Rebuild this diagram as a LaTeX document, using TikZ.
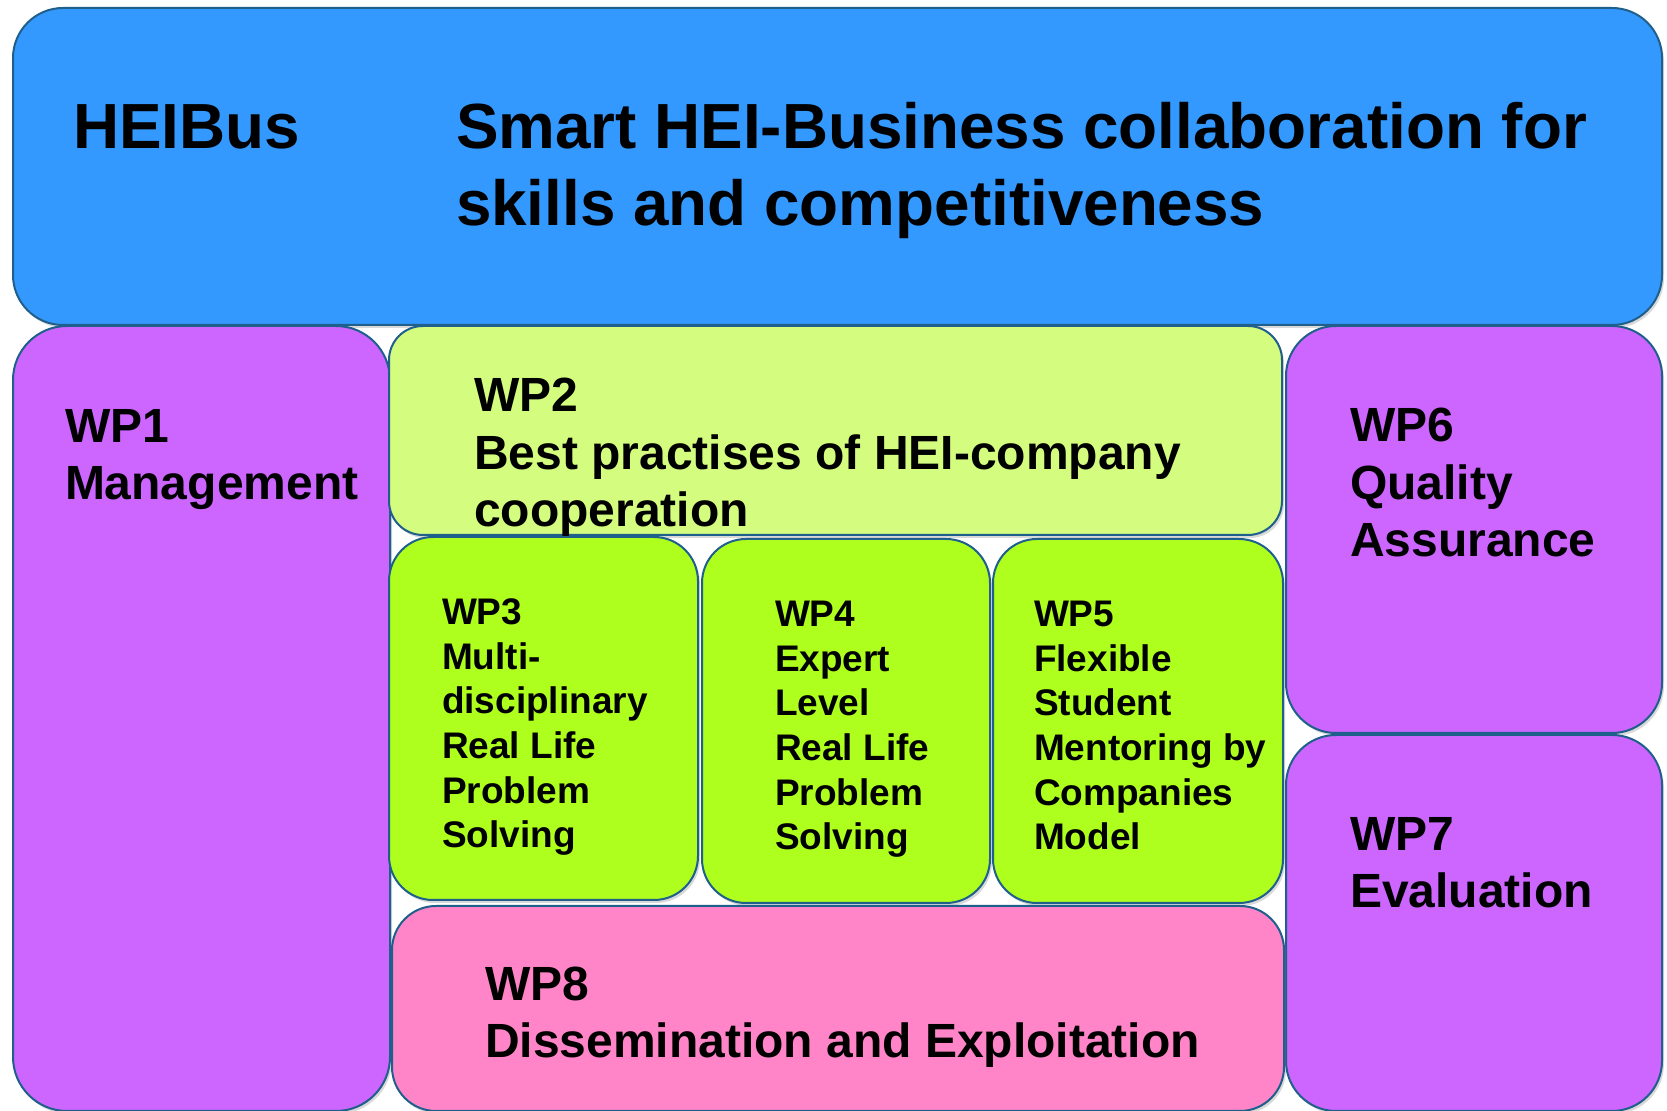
\documentclass[tikz,border=0pt]{standalone}
\usepackage{fontspec}
\setmainfont{Liberation Sans}
\usetikzlibrary{positioning,fit,shadows}
\definecolor{heiblue}{HTML}{3399FF}
\definecolor{wppurple}{HTML}{CC66FF}
\definecolor{wplime}{HTML}{D4FC7E}
\definecolor{wpgreen}{HTML}{AEFF1E}
\definecolor{wppink}{HTML}{FF85C8}
\definecolor{wpedge}{HTML}{1F5F8C}

\begin{document}
\begin{tikzpicture}
  [
  x=0.5pt, y=-0.5pt, line width=1pt,
  wpbox/.style={rectangle, draw=wpedge, inner sep=0pt, rounded corners=25pt, drop shadow={shadow xshift=1pt, shadow yshift=-1.5pt, opacity=0.3}},
  headtext/.style={anchor=base west, inner sep=0pt, align=left, font=\bfseries\fontsize{31.9}{38.5}\selectfont},
  wptext/.style={anchor=base west, inner sep=0pt, align=left, font=\bfseries\fontsize{24}{28.75}\selectfont},
  subtext/.style={anchor=base west, inner sep=0pt, align=left, font=\bfseries\fontsize{18.5}{22.35}\selectfont}
  ]
\useasboundingbox (0,0) rectangle (1667,1111);

% title bar
\node[wpbox, fill=heiblue, fit={(13,8) (1662,325)}] (heibus) {};
\node[headtext] (acronym) at (72,149) {HEIBus};
\node[headtext] (title) at (455,226) {Smart HEI-Business collaboration for\\skills and competitiveness};

% side work packages
\node[wpbox, fill=wppurple, rounded corners=27pt, fit={(13,326) (390,1111)}] (wp1) {};
\node[wpbox, fill=wppurple, fit={(1286,326) (1662,733)}] (wp6) {};
\node[wpbox, fill=wppurple, fit={(1286,735) (1662,1111)}] (wp7) {};

% middle work packages
\node[wpbox, fill=wplime, rounded corners=17pt, fit={(389,326) (1282,535)}] (wp2) {};
\node[wpbox, fill=wpgreen, rounded corners=22pt, fit={(389,537) (698,900)}] (wp3) {};
\node[wpbox, fill=wpgreen, rounded corners=22pt, fit={(702,539) (990,903)}] (wp4) {};
\node[wpbox, fill=wpgreen, rounded corners=22pt, fit={(993,539) (1283,903)}] (wp5) {};
\node[wpbox, fill=wppink, rounded corners=22pt, fit={(392,906) (1284,1111)}] (wp8) {};

% texts, placed by the baseline of their last line
\node[wptext] (wp1t) at (64,500) {WP1\\Management};
\node[wptext] (wp2t) at (473,527) {WP2\\Best practises of HEI-company\\cooperation};
\node[subtext] (wp3t) at (441,848) {WP3\\Multi-\\disciplinary\\Real Life\\Problem\\Solving};
\node[subtext] (wp4t) at (774,850) {WP4\\Expert\\Level\\Real Life\\Problem\\Solving};
\node[subtext] (wp5t) at (1033,850) {WP5\\Flexible\\Student\\Mentoring by\\Companies\\Model};
\node[wptext] (wp6t) at (1349,557) {WP6\\Quality\\Assurance};
\node[wptext] (wp7t) at (1349,908) {WP7\\Evaluation};
\node[wptext] (wp8t) at (484,1058) {WP8\\Dissemination and Exploitation};

\end{tikzpicture}
\end{document}
